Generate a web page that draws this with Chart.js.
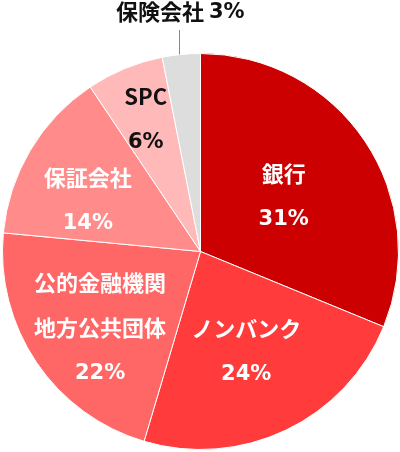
<!DOCTYPE html>
<html>
<head>
<meta charset="utf-8">
<script src="https://cdn.jsdelivr.net/npm/chart.js@4/dist/chart.umd.min.js"></script>
<style>
html,body{margin:0;padding:0;background:#fff;}
#wrap{width:400px;height:452px;position:relative;}
</style>
</head>
<body>
<div id="wrap"><canvas id="pie"></canvas></div>
<script>
// data
const labels = ["銀行","ノンバンク","公的金融機関\n地方公共団体","保証会社","SPC","保険会社"];
const shares = [31.2,23.4,21.9,14.1,6.3,3.1];
const pctLabels = ["31%","24%","22%","14%","6%","3%"];
const colors = ["#cc0000","#ff3b3b","#ff6666","#ff8b8b","#ffb9b9","#dddddd"];
const textColors = ["#fff","#fff","#fff","#fff","#111","#111"];
// label distance from centre, as fraction of radius (0 = outside with leader)
const labelRadius = [0.506,0.555,0.635,0.625,0.723,0];
// small turn of the label away from the slice middle, degrees
const labelTurn = [0,1,-3,-6.3,0,0];

const JP_FONT = 'bold 22px "Noto Sans CJK JP", "Noto Sans", sans-serif';
const NUM_FONT = 'bold 21px "DejaVu Sans", sans-serif';

/* -----------------------------
   LABEL PLUGIN
------------------------------ */
const sliceLabels = {
id:"sliceLabels",
afterDatasetsDraw(chart){
const ctx = chart.ctx;
const meta = chart.getDatasetMeta(0);
ctx.save();
ctx.textAlign = "center";
ctx.textBaseline = "middle";
meta.data.forEach((arc,i)=>{
const p = arc.getProps(["x","y","startAngle","endAngle","outerRadius"],true);
const mid = (p.startAngle+p.endAngle)/2;
const lines = labels[i].split("\n");
ctx.fillStyle=textColors[i];
if(labelRadius[i]===0){
// outside label with leader line
const ex = p.x+Math.cos(mid)*p.outerRadius;
const ey = p.y+Math.sin(mid)*p.outerRadius;
ctx.strokeStyle="#888";
ctx.lineWidth=1;
ctx.beginPath();
ctx.moveTo(Math.round(ex)-1.5,ey);
ctx.lineTo(Math.round(ex)-1.5,30);
ctx.stroke();
ctx.font=JP_FONT;
const w1 = ctx.measureText(lines[0]+" ").width;
ctx.font=NUM_FONT;
const w2 = ctx.measureText(pctLabels[i]).width;
const x0 = ex-1-(w1+w2)/2;
ctx.textAlign="left";
ctx.font=JP_FONT;
ctx.fillText(lines[0]+" ",x0,12);
ctx.font=NUM_FONT;
ctx.fillText(pctLabels[i],x0+w1,13);
ctx.textAlign="center";
return;
}
const a = mid+labelTurn[i]*Math.PI/180;
const cx = p.x+Math.cos(a)*p.outerRadius*labelRadius[i];
const cy = p.y+Math.sin(a)*p.outerRadius*labelRadius[i];
const all = lines.concat([pctLabels[i]]);
const gap = 45;
const top = cy-gap*(all.length-1)/2;
all.forEach((t,k)=>{
const isPct = k===all.length-1;
ctx.font = isPct?NUM_FONT:JP_FONT;
ctx.fillText(t,cx,top+k*gap+(isPct?1:0));
});
});
ctx.restore();
}
};

/* -----------------------------
   CHART
------------------------------ */
new Chart(document.getElementById("pie"),{
type:"pie",
data:{
labels:labels,
datasets:[{
data:shares,
backgroundColor:colors,
borderColor:"#fff",
borderWidth:1
}]
},
options:{
responsive:true,
maintainAspectRatio:false,
animation:false,
layout:{padding:{top:53,bottom:2,left:2,right:1}},
plugins:{legend:{display:false},tooltip:{enabled:false}}
},
plugins:[sliceLabels]
});
</script>
</body>
</html>
